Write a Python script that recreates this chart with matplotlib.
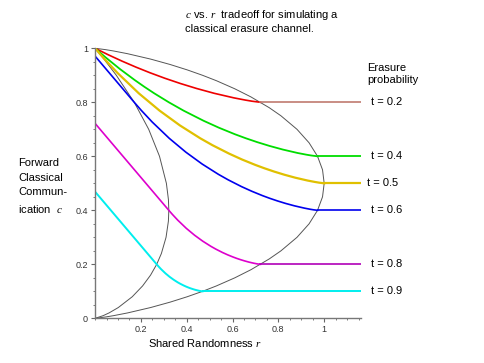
import matplotlib.pyplot as plt
from matplotlib.ticker import MultipleLocator

plt.rcParams['font.family'] = ['Liberation Sans', 'DejaVu Sans']
plt.rcParams['mathtext.fontset'] = 'custom'
plt.rcParams['mathtext.it'] = 'Liberation Serif:italic'
plt.rcParams['mathtext.rm'] = 'Liberation Sans'

# erasure probabilities and the c level each curve settles on
t_labels = ['t = 0.2', 't = 0.4', 't = 0.5', 't = 0.6', 't = 0.8', 't = 0.9']
r_end = 1.16

# curves: r = shared randomness, c = forward communication
r_02 = [0, 0.0584, 0.1178, 0.1785, 0.2406, 0.3050, 0.3722, 0.4433, 0.5200, 0.6065, 0.6566, 0.6854, 0.7219]
c_02 = [1, 0.9756, 0.9524, 0.9302, 0.9091, 0.8889, 0.8696, 0.8511, 0.8333, 0.8163, 0.8081, 0.8040, 0.8]

r_04 = [0, 0.0439, 0.1087, 0.1730, 0.2156, 0.2581, 0.3220, 0.3862, 0.4734, 0.5405, 0.6101, 0.6583,
        0.7087, 0.7620, 0.8196, 0.8844, 0.9220, 0.9436, 0.971]
c_04 = [1, 0.9677, 0.9231, 0.8824, 0.8571, 0.8333, 0.8, 0.7692, 0.7317, 0.7059, 0.6818, 0.6667,
        0.6522, 0.6383, 0.625, 0.6122, 0.6061, 0.6030, 0.6]

r_05 = [0, 0.0396, 0.0975, 0.1908, 0.2815, 0.3705, 0.4591, 0.5127, 0.5853, 0.6413, 0.6992, 0.7394,
        0.7814, 0.8259, 0.8738, 0.9279, 0.9592, 0.9772, 1.0]
c_05 = [1, 0.9615, 0.9091, 0.8333, 0.7692, 0.7143, 0.6667, 0.6410, 0.6098, 0.5882, 0.5682, 0.5556,
        0.5435, 0.5319, 0.5208, 0.5102, 0.5051, 0.5025, 0.5]

r_06 = [0, 0.171, 0.2027, 0.2490, 0.3237, 0.3962, 0.4674, 0.5383, 0.5812, 0.6392, 0.6840, 0.7304,
        0.7626, 0.7961, 0.8317, 0.8700, 0.9133, 0.9384, 0.9527, 0.971]
c_06 = [0.971, 0.8, 0.7692, 0.7273, 0.6667, 0.6154, 0.5714, 0.5333, 0.5128, 0.4878, 0.4706, 0.4545,
        0.4444, 0.4348, 0.4255, 0.4167, 0.4082, 0.4040, 0.4020, 0.4]

r_08 = [0, 0.3219, 0.3378, 0.3609, 0.3982, 0.4345, 0.4701, 0.5055, 0.5270, 0.5560, 0.5784, 0.6016,
        0.6177, 0.6345, 0.6522, 0.6714, 0.6930, 0.7056, 0.7128, 0.7219]
c_08 = [0.7219, 0.4, 0.3846, 0.3636, 0.3333, 0.3077, 0.2857, 0.2667, 0.2564, 0.2439, 0.2353, 0.2273,
        0.2222, 0.2174, 0.2128, 0.2083, 0.2041, 0.2020, 0.2010, 0.2]

r_09 = [0, 0.269, 0.2769, 0.2885, 0.3071, 0.3253, 0.3431, 0.3608, 0.3715, 0.3860, 0.3973, 0.4089,
        0.4169, 0.4253, 0.4342, 0.4438, 0.4546, 0.4608, 0.4644, 0.469]
c_09 = [0.469, 0.2, 0.1923, 0.1818, 0.1667, 0.1538, 0.1429, 0.1333, 0.1282, 0.1220, 0.1176, 0.1136,
        0.1111, 0.1087, 0.1064, 0.1042, 0.1020, 0.1010, 0.1005, 0.1]

# thin black boundary curves
outer_r = [0, 0.0454, 0.0808, 0.1414, 0.2423, 0.3274, 0.4022, 0.469, 0.5294, 0.6098, 0.6801, 0.7602,
           0.8113, 0.8813, 0.9341, 0.971, 0.9928, 1.0, 0.9928, 0.971, 0.9341, 0.8813, 0.8113, 0.7602,
           0.6801, 0.6098, 0.5294, 0.469, 0.4022, 0.3274, 0.2423, 0.1414, 0.0808, 0.0454, 0]
outer_c = [1, 0.995, 0.99, 0.98, 0.96, 0.94, 0.92, 0.9, 0.88, 0.85, 0.82, 0.78,
           0.75, 0.7, 0.65, 0.6, 0.55, 0.5, 0.45, 0.4, 0.35, 0.3, 0.25, 0.22,
           0.18, 0.15, 0.12, 0.1, 0.08, 0.06, 0.04, 0.02, 0.01, 0.005, 0]
inner_r = [0, 0.0388, 0.0928, 0.171, 0.2341, 0.2813, 0.3113, 0.3202, 0.3219, 0.3201, 0.3098, 0.2894,
           0.269, 0.2422, 0.2074, 0.1623, 0.1014, 0.0608, 0.0354, 0]
inner_c = [1, 0.96, 0.9, 0.8, 0.7, 0.6, 0.5, 0.44, 0.4, 0.36, 0.3, 0.24,
           0.2, 0.16, 0.12, 0.08, 0.04, 0.02, 0.01, 0]

curves = [(r_02, c_02), (r_04, c_04), (r_05, c_05), (r_06, c_06), (r_08, c_08), (r_09, c_09)]
colors = ['#ee0000', '#00dd00', '#e0c000', '#0000ee', '#dd00cc', '#00eeee']
flat_colors = ['#c07a70', '#00dd00', '#e0c000', '#0000ee', '#b000b8', '#00eeee']
widths = [1.2, 1.3, 1.6, 1.2, 1.2, 1.4]

fig = plt.figure(figsize=(4.85, 3.63), dpi=100)
ax = fig.add_axes([0.196, 0.123, 0.548, 0.744])

ax.plot(outer_r, outer_c, color='#555555', lw=0.7)
ax.plot(inner_r, inner_c, color='#555555', lw=0.7)

for (r, c), col, fcol, w, lab in zip(curves, colors, flat_colors, widths, t_labels):
    ax.plot(r, c, color=col, lw=w)
    ax.plot([r[-1], r_end], [c[-1], c[-1]], color=fcol, lw=w)
    xoff = 1.187 if lab == 't = 0.5' else 1.205
    ax.text(xoff, c[-1], lab, fontsize=8, va='center', ha='left', clip_on=False)

ax.text(1.187, 0.905, 'Erasure\nprobability', fontsize=8, va='center', ha='left',
        linespacing=1.25, clip_on=False)

ax.set_xlim(0, r_end)
ax.set_ylim(0, 1)
ax.set_xticks([0.2, 0.4, 0.6, 0.8, 1.0])
ax.set_xticklabels(['0.2', '0.4', '0.6', '0.8', '1'])
ax.set_yticks([0, 0.2, 0.4, 0.6, 0.8, 1.0])
ax.set_yticklabels(['0', '0.2', '0.4', '0.6', '0.8', '1'])
ax.xaxis.set_minor_locator(MultipleLocator(0.05))
ax.yaxis.set_minor_locator(MultipleLocator(0.05))
ax.tick_params(which='major', length=3, width=0.8, color='#666666', labelsize=6.5,
               labelcolor='#333333', pad=2)
ax.tick_params(which='minor', length=1.5, width=0.6, color='#666666')

for s in ['top', 'right']:
    ax.spines[s].set_visible(False)
for s in ['left', 'bottom']:
    ax.spines[s].set_color('#777777')
    ax.spines[s].set_linewidth(1.0)

fig.text(0.381, 0.978, '$c$ vs. $r$  tradeoff for simulating a\nclassical erasure channel.',
         fontsize=8, va='top', ha='left', linespacing=1.3)
fig.text(0.037, 0.486, 'Forward\nClassical\nCommun-\nication  $c$', fontsize=8,
         va='center', ha='left', linespacing=1.6)
fig.text(0.423, 0.055, 'Shared Randomness $r$', fontsize=8, va='center', ha='center')

fig.savefig('out.png', dpi=100)
